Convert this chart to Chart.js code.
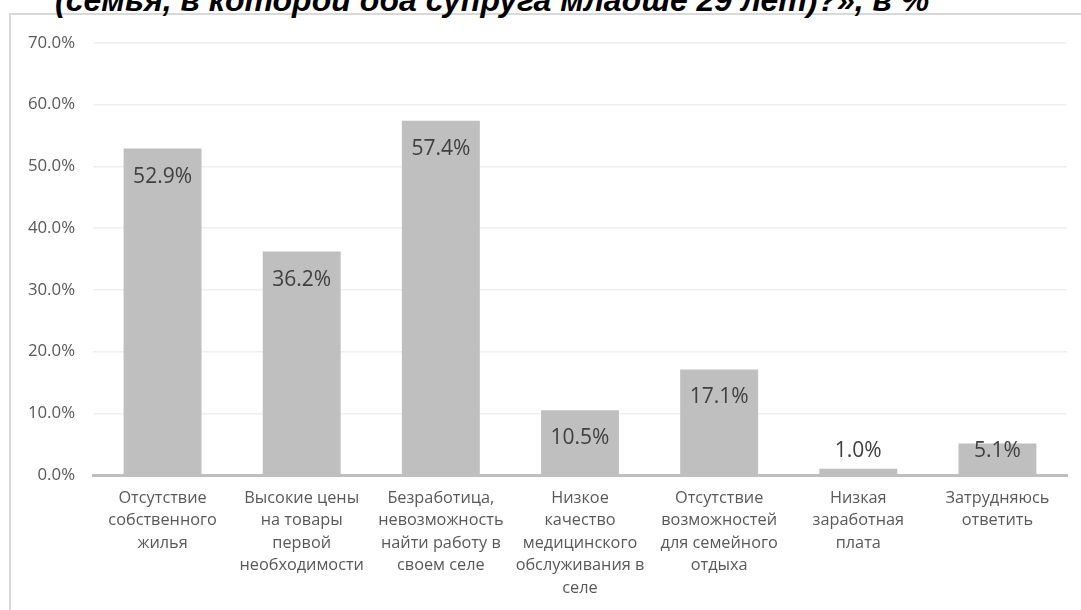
<!DOCTYPE html>
<html>
<head>
<meta charset="utf-8">
<script src="https://cdn.jsdelivr.net/npm/chart.js@4"></script>
<style>
    html, body { margin: 0; padding: 0; background: #fff; overflow: hidden; }
    #wrap { position: relative; width: 1081px; height: 610px; overflow: hidden; }
    #frame { position: absolute; left: 9px; top: 13px; width: 1200px; height: 800px;
             border: 2px solid #d9d9d9; box-sizing: border-box; }
    #title { position: absolute; left: 55px; top: -18px; white-space: nowrap; line-height: 32px;
             font: italic bold 32px "Liberation Sans", Arial, sans-serif; color: #000; }
    canvas { position: absolute; left: 0; top: 0; }
</style>
</head>
<body>
<div id="wrap">
    <div id="frame"></div>
    <div id="title">(семья, в которой оба супруга младше 29 лет)?», в %</div>
    <canvas id="chart" width="1081" height="610"></canvas>
</div>
<script>
const categories = [
    ['Отсутствие', 'собственного', 'жилья'],
    ['Высокие цены', 'на товары', 'первой', 'необходимости'],
    ['Безработица,', 'невозможность', 'найти работу в', 'своем селе'],
    ['Низкое', 'качество', 'медицинского', 'обслуживания в', 'селе'],
    ['Отсутствие', 'возможностей', 'для семейного', 'отдыха'],
    ['Низкая', 'заработная', 'плата'],
    ['Затрудняюсь', 'ответить']
];
const values = [52.9, 36.2, 57.4, 10.5, 17.1, 1.0, 5.1];
const yMax = 70;
const yStep = 10;

// value labels inside the top of each bar, like Excel's "inside end"
const barLabels = {
    id: 'barLabels',
    afterDatasetsDraw(chart) {
        const ctx = chart.ctx;
        const meta = chart.getDatasetMeta(0);
        ctx.save();
        ctx.font = '21px "Open Sans", sans-serif';
        ctx.fillStyle = '#404040';
        ctx.textAlign = 'center';
        ctx.textBaseline = 'middle';
        meta.data.forEach((bar, i) => {
            const y = Math.min(bar.y + 28, bar.base - 23);
            ctx.fillText(values[i].toFixed(1) + '%', bar.x, y);
        });
        ctx.restore();
    }
};

new Chart(document.getElementById('chart'), {
    type: 'bar',
    data: {
        labels: categories,
        datasets: [{
            data: values,
            backgroundColor: '#bfbfbf',
            categoryPercentage: 1,
            barPercentage: 0.56
        }]
    },
    options: {
        responsive: false,
        animation: false,
        layout: { padding: { top: 43, right: 14, left: 0, bottom: 0 } },
        plugins: { legend: { display: false }, tooltip: { enabled: false } },
        scales: {
            x: {
                grid: { display: false, drawTicks: false },
                border: { color: '#bfbfbf', width: 3 },
                ticks: {
                    color: '#595959',
                    font: { family: '"Open Sans", sans-serif', size: 16.3, lineHeight: 1.38 },
                    padding: 12,
                    maxRotation: 0,
                    autoSkip: false
                },
                afterFit(scale) { scale.height = 135; }
            },
            y: {
                min: 0,
                max: yMax,
                grid: { color: '#efefef', lineWidth: 1.5, drawTicks: false },
                border: { display: false },
                ticks: {
                    stepSize: yStep,
                    color: '#595959',
                    font: { family: '"Open Sans", sans-serif', size: 16.8 },
                    padding: 18,
                    callback: v => v.toFixed(1) + '%'
                },
                afterFit(scale) { scale.width = 93; }
            }
        }
    },
    plugins: [barLabels]
});
</script>
</body>
</html>
